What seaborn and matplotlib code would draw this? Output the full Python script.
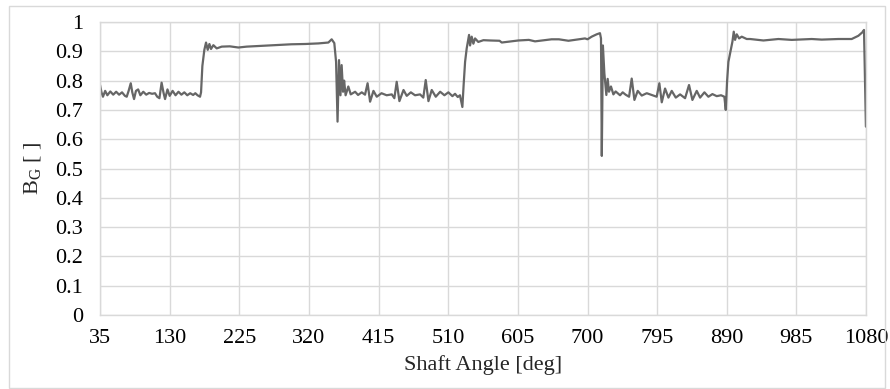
import numpy as np
import pandas as pd
import matplotlib
matplotlib.use("Agg")
import matplotlib.pyplot as plt
from matplotlib.patches import Rectangle
import seaborn as sns

# ---- data ----
shaft_angle = [
    35, 37, 39, 42, 45, 49, 53, 57, 61, 65, 69, 71.4, 74, 76.9, 79, 81.4, 84, 87, 90, 94,
    98, 102, 106, 110, 113, 116, 119, 121.5, 123.7, 127, 130, 134, 138, 142, 146, 150, 154,
    158, 162, 165, 168, 171.4,
    172.8, 174.6, 177.3, 179.6, 181.9, 184.2, 186.4, 189.6, 194.2, 201, 212, 223.7, 235, 251,
    270, 296, 315, 333, 346.5, 351, 354.6, 357, 359, 361, 363, 364.6, 366.5, 368, 370, 373.7,
    377, 383, 387, 392, 396.5, 400, 403.4, 408, 412.5, 419, 426, 433, 436.5, 439.7, 443.4,
    449, 453.4, 459, 464.7, 471.6, 476, 479.3, 483, 487.5, 493, 499, 504.8, 510.2, 515.7,
    519.3, 523, 526, 529.3, 531, 533, 535.2, 538.4, 539.8, 542, 544.3, 546.6, 551, 558, 567,
    580, 583, 605.7, 620, 628.4, 651, 661, 674, 696.6, 700, 705.7, 712.5, 717, 718.4, 719.5,
    721, 723, 725.7, 727.5, 729.3, 732, 735.3, 738.4, 742, 744.4, 748, 752, 756.7, 760.3,
    764, 768.5, 774, 780.8, 787.6, 794.4, 798, 801.3, 805.8, 810.4, 814.9, 820.4, 826.3,
    833.1, 838.5, 843.1, 849, 853.6, 859.5, 864.9, 870.4, 876.3, 882.2, 886.7, 888.6, 890.4,
    892.2, 894.9, 897.7, 899.5, 901.3, 903.6, 906.8, 910.4, 917.2, 921.8, 940, 960.4, 978.6,
    1005.8, 1019.5, 1042.2, 1060.4, 1069.5, 1075, 1077.2, 1079.8,
]
bg_value = [
    0.785, 0.760, 0.745, 0.765, 0.750, 0.763, 0.752, 0.762, 0.752, 0.760, 0.748, 0.745, 0.765,
    0.791, 0.760, 0.737, 0.765, 0.770, 0.750, 0.762, 0.752, 0.758, 0.755, 0.757, 0.745, 0.740,
    0.793, 0.760, 0.737, 0.770, 0.748, 0.765, 0.750, 0.762, 0.752, 0.760, 0.750, 0.757, 0.751,
    0.757, 0.750, 0.745,
    0.760, 0.850, 0.905, 0.930, 0.905, 0.925, 0.908, 0.921, 0.910, 0.916, 0.917, 0.913, 0.916,
    0.918, 0.920, 0.924, 0.925, 0.927, 0.930, 0.941, 0.928, 0.864, 0.660, 0.870, 0.750, 0.853,
    0.762, 0.800, 0.750, 0.780, 0.753, 0.762, 0.751, 0.760, 0.752, 0.791, 0.728, 0.765, 0.745,
    0.757, 0.750, 0.753, 0.740, 0.796, 0.730, 0.768, 0.748, 0.760, 0.750, 0.753, 0.742, 0.802,
    0.730, 0.768, 0.745, 0.762, 0.750, 0.760, 0.747, 0.755, 0.744, 0.750, 0.710, 0.785, 0.864,
    0.910, 0.956, 0.920, 0.950, 0.926, 0.944, 0.932, 0.938, 0.937, 0.936, 0.930, 0.937, 0.939,
    0.934, 0.941, 0.941, 0.936, 0.944, 0.941, 0.950, 0.958, 0.962, 0.944, 0.543, 0.920, 0.825,
    0.751, 0.806, 0.762, 0.780, 0.753, 0.763, 0.755, 0.750, 0.760, 0.752, 0.745, 0.807, 0.734,
    0.765, 0.749, 0.757, 0.751, 0.745, 0.791, 0.726, 0.773, 0.742, 0.765, 0.742, 0.753, 0.740,
    0.785, 0.734, 0.765, 0.742, 0.760, 0.745, 0.754, 0.747, 0.750, 0.745, 0.700, 0.797, 0.864,
    0.898, 0.933, 0.967, 0.939, 0.958, 0.944, 0.950, 0.942, 0.942, 0.937, 0.942, 0.939, 0.942,
    0.940, 0.942, 0.942, 0.953, 0.965, 0.973, 0.643,
]
x_tick_values = [35, 130, 225, 320, 415, 510, 605, 700, 795, 890, 985, 1080]
y_tick_values = [0, 0.1, 0.2, 0.3, 0.4, 0.5, 0.6, 0.7, 0.8, 0.9, 1]
y_tick_labels = ["0", "0.1", "0.2", "0.3", "0.4", "0.5", "0.6", "0.7", "0.8", "0.9", "1"]
x_title = "Shaft Angle [deg]"
y_title = r"B$_{\mathrm{G}}$ [ ]"

df = pd.DataFrame({"angle": shaft_angle, "bg": bg_value})

sns.set_theme(style="white")
plt.rcParams["font.family"] = ["Liberation Serif", "DejaVu Serif"]
plt.rcParams["mathtext.fontset"] = "custom"
plt.rcParams["mathtext.rm"] = "Liberation Serif"
plt.rcParams["mathtext.it"] = "Liberation Serif:italic"

fig = plt.figure(figsize=(8.9, 3.89), dpi=100, facecolor="white")
ax = fig.add_axes([0.1124, 0.1902, 0.8607, 0.7532])

sns.lineplot(data=df, x="angle", y="bg", ax=ax, color="#666666", linewidth=1.6,
             sort=False, estimator=None)

ax.set_xlim(35, 1080)
ax.set_ylim(0, 1)
ax.set_xticks(x_tick_values)
ax.set_xticklabels([str(v) for v in x_tick_values])
ax.set_yticks(y_tick_values)
ax.set_yticklabels(y_tick_labels)
ax.grid(True, color="#d9d9d9", linewidth=1.0)
ax.set_axisbelow(True)
for side in ["left", "bottom", "top", "right"]:
    ax.spines[side].set_color("#d9d9d9")
    ax.spines[side].set_linewidth(1.0)
ax.tick_params(axis="both", length=0, labelsize=16, colors="black")
ax.tick_params(axis="y", pad=12)
ax.tick_params(axis="x", pad=10)
ax.set_xlabel(x_title, fontsize=16, labelpad=5)
ax.set_ylabel(y_title, fontsize=16, labelpad=9)

fig.patches.append(Rectangle((0.0101, 0.0026), 0.984, 0.982, transform=fig.transFigure,
                             fill=False, edgecolor="#d9d9d9", linewidth=1.0))

fig.savefig("out.png", dpi=100, facecolor="white")
